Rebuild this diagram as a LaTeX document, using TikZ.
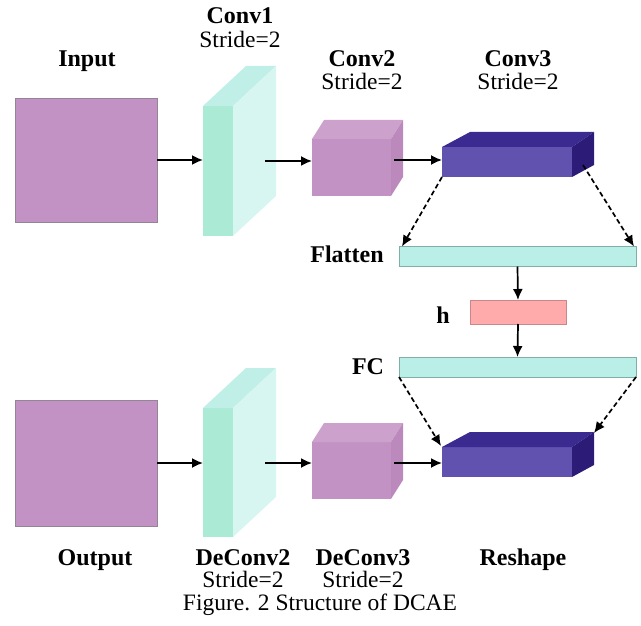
\documentclass[tikz,border=0pt]{standalone}
\usepackage{fontspec}
\setmainfont{Liberation Serif}
\usetikzlibrary{arrows.meta,calc}

\definecolor{purpleF}{HTML}{C392C4}
\definecolor{purpleTop}{HTML}{CCA2CD}
\definecolor{purpleSide}{HTML}{BB89BC}
\definecolor{mintF}{HTML}{ABEBD6}
\definecolor{mintTop}{HTML}{BFEFE7}
\definecolor{mintSide}{HTML}{D7F6F2}
\definecolor{blueF}{HTML}{6252B0}
\definecolor{blueTop}{HTML}{3B2A8F}
\definecolor{blueSide}{HTML}{2D1C77}
\definecolor{barFill}{HTML}{BAEFE7}
\definecolor{barDraw}{HTML}{7FAFA8}
\definecolor{hFill}{HTML}{FFABAB}
\definecolor{hDraw}{HTML}{C98888}

\begin{document}
\begin{tikzpicture}[x=1pt,y=-1pt,
  face/.style={rectangle,inner sep=0pt,outer sep=0pt},
  bar/.style={face,fill=barFill,draw=barDraw,line width=0.6pt,minimum width=237pt,minimum height=20pt},
  lbl/.style={inner sep=0pt,text height=15pt,text depth=2pt,font=\fontsize{24}{28}\selectfont\bfseries},
  sub/.style={inner sep=0pt,text height=15pt,text depth=2pt,font=\fontsize{23.5}{27}\selectfont},
  flow/.style={line width=1.7pt,-{Latex[length=11pt,width=10pt]}},
  dflow/.style={flow,dash pattern=on 5pt off 3pt}
]
\useasboundingbox (0,0) rectangle (641,626);

% ---- encoder ----
\node[face,fill=purpleF,draw=gray!70!purpleF,line width=0.6pt,
      minimum width=142pt,minimum height=124pt] (in) at (86,160) {};

\node[face,fill=mintF,minimum width=30pt,minimum height=130pt] (c1) at (218,171) {};
\fill[mintTop] (c1.north west) -- ++(43,-40) -- ($(c1.north east)+(43,-40)$) -- (c1.north east) -- cycle;
\fill[mintSide] (c1.north east) -- ++(43,-40) -- ($(c1.south east)+(43,-40)$) -- (c1.south east) -- cycle;

\node[face,fill=purpleF,minimum width=79pt,minimum height=57pt] (c2) at (351.5,167.5) {};
\fill[purpleTop] (c2.north west) -- ++(12,-19) -- ($(c2.north east)+(12,-19)$) -- (c2.north east) -- cycle;
\fill[purpleSide] (c2.north east) -- ++(12,-19) -- ($(c2.south east)+(12,-19)$) -- (c2.south east) -- cycle;

\node[face,fill=blueF,minimum width=130pt,minimum height=30pt] (c3) at (507,162) {};
\fill[blueTop] (c3.north west) -- ++(28,-15) -- ($(c3.north east)+(22,-15)$) -- (c3.north east) -- cycle;
\fill[blueSide] (c3.north east) -- ++(22,-15) -- ($(c3.south east)+(22,-12)$) -- (c3.south east) -- cycle;

\node[bar] (flat) at (517.5,256.5) {};
\node[face,fill=hFill,draw=hDraw,line width=0.6pt,minimum width=96pt,minimum height=24pt] (h) at (518,312) {};
\node[bar] (fc) at (517.5,367) {};

% ---- decoder ----
\node[face,fill=blueF,minimum width=130pt,minimum height=30pt] (rs) at (507,462) {};
\fill[blueTop] (rs.north west) -- ++(28,-15) -- ($(rs.north east)+(22,-15)$) -- (rs.north east) -- cycle;
\fill[blueSide] (rs.north east) -- ++(22,-15) -- ($(rs.south east)+(22,-12)$) -- (rs.south east) -- cycle;

\node[face,fill=purpleF,minimum width=79pt,minimum height=57pt] (d3) at (351.5,470.5) {};
\fill[purpleTop] (d3.north west) -- ++(12,-19) -- ($(d3.north east)+(12,-19)$) -- (d3.north east) -- cycle;
\fill[purpleSide] (d3.north east) -- ++(12,-19) -- ($(d3.south east)+(12,-19)$) -- (d3.south east) -- cycle;

\node[face,fill=mintF,minimum width=30pt,minimum height=129pt] (d2) at (218,472.5) {};
\fill[mintTop] (d2.north west) -- ++(43,-40) -- ($(d2.north east)+(43,-40)$) -- (d2.north east) -- cycle;
\fill[mintSide] (d2.north east) -- ++(43,-40) -- ($(d2.south east)+(43,-40)$) -- (d2.south east) -- cycle;

\node[face,fill=purpleF,draw=gray!70!purpleF,line width=0.6pt,
      minimum width=142pt,minimum height=126pt] (out) at (86,463) {};

% ---- connector end points ----
\coordinate (c1out) at (265,161);
\coordinate (c2out) at (394,160);
\coordinate (c3side) at (583,165);
\coordinate (rsback) at (594,433);
\coordinate (d2out) at (265,463);
\coordinate (d3out) at (394,463);

% ---- connectors ----
\draw[flow] (in.east) -- (in.east -| c1.west);
\draw[flow] (c1out) -- (c1out -| c2.west);
\draw[flow] (c2out) -- (c2out -| c3.west);
\draw[dflow] (c3.south west) -- ($(flat.north west)+(3,0)$);
\draw[dflow] (c3side) -- ($(flat.north east)+(-2,0)$);
\draw[flow] (flat.south) -- (h.north);
\draw[flow] (h.south) -- (fc.north);
\draw[dflow] (fc.south west) -- ($(rs.north west)+(-1,-1)$);
\draw[dflow] (fc.south east) -- (rsback);
\draw[flow] (out.east) -- (out.east -| d2.west);
\draw[flow] (d2out) -- (d2out -| d3.west);
\draw[flow] (d3out) -- (d3out -| rs.west);

% ---- labels ----
\node[lbl] (tin) at (87,60) {Input};
\node[lbl] (tc1) at (240,17) {Conv1};
\node[sub] (sc1) at (240,41) {Stride=2};
\node[lbl] (tc2) at (362,60) {Conv2};
\node[sub] (sc2) at (362,83) {Stride=2};
\node[lbl] (tc3) at (518,60) {Conv3};
\node[sub] (sc3) at (518,83) {Stride=2};
\node[lbl] (tflat) at (347,256) {Flatten};
\node[lbl] (th) at (443,317) {h};
\node[lbl] (tfc) at (368,368) {FC};
\node[lbl] (tout) at (95,559) {Output};
\node[lbl] (td2) at (243,559) {DeConv2};
\node[sub] (sd2) at (243,581) {Stride=2};
\node[lbl] (td3) at (363,559) {DeConv3};
\node[sub] (sd3) at (363,581) {Stride=2};
\node[lbl] (trs) at (523,559) {Reshape};
\node[sub] (cap) at (320,604) {Figure. 2 Structure of DCAE};
\end{tikzpicture}
\end{document}
